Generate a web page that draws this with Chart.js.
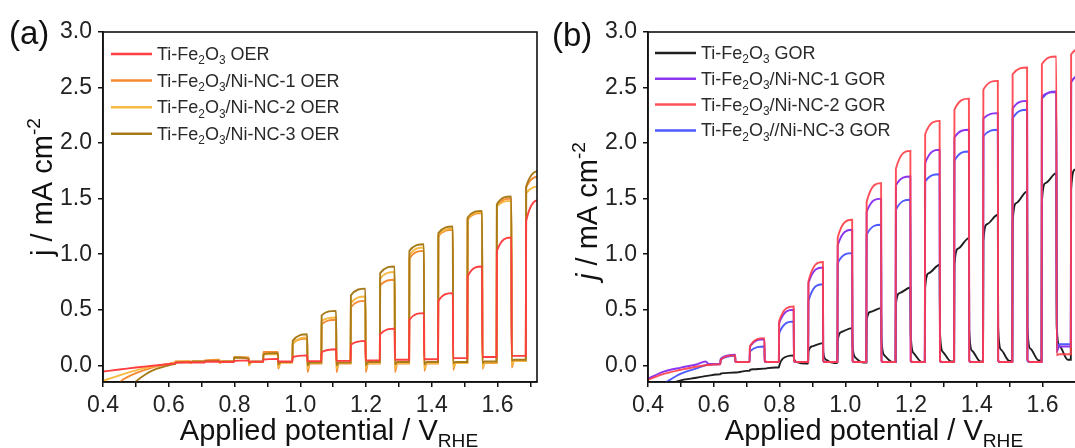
<!DOCTYPE html>
<html>
<head>
<meta charset="utf-8">
<script src="https://cdn.jsdelivr.net/npm/chart.js@4.4.1/dist/chart.umd.min.js"></script>
<style>
  html, body { margin: 0; padding: 0; background: #fff; overflow: hidden; }
  .panel { position: absolute; top: 0; width: 545px; height: 448px; }
</style>
</head>
<body>
<div class="panel" style="left:0"><canvas id="oer" width="545" height="448"></canvas></div>
<div class="panel" style="left:545px"><canvas id="gor" width="545" height="448"></canvas></div>
<script>
// chopped light: potential where the lamp goes on / off (V vs RHE)
const lightOn  = [0.620, 0.709, 0.798, 0.887, 0.976, 1.064, 1.153, 1.242, 1.331, 1.419, 1.508, 1.597, 1.686]
const lightOff = [0.665, 0.754, 0.843, 0.932, 1.021, 1.109, 1.198, 1.287, 1.376, 1.464, 1.553, 1.642, 1.731]

const xTicks = [0.4, 0.5, 0.6, 0.7, 0.8, 0.9, 1.0, 1.1, 1.2, 1.3, 1.4, 1.5, 1.6, 1.7]
const yTicks = [0, 0.25, 0.5, 0.75, 1.0, 1.25, 1.5, 1.75, 2.0, 2.25, 2.5, 2.75, 3.0]

// (a) OER, j in mA cm-2
// lead = dark sweep before the first pulse, on = right after light on,
// top = just before light off, drop = right after light off, dark = settled dark current
const refOerLead = [[0.40, -0.055], [0.45, -0.038], [0.50, -0.02], [0.55, -0.004], [0.60, 0.012], [0.62, 0.018]]
const refOerOn   = [0.025, 0.032, 0.040, 0.052, 0.075, 0.118, 0.185, 0.28, 0.41, 0.58, 0.80, 1.03, 1.30]
const refOerTop  = [0.028, 0.034, 0.045, 0.058, 0.09, 0.145, 0.22, 0.33, 0.47, 0.65, 0.89, 1.15, 1.49]
const refOerDrop = [0.025, 0.03, 0.033, 0.035, 0.04, 0.04, 0.045, 0.05, 0.055, 0.065, 0.075, 0.085]
const refOerDark = [0.025, 0.03, 0.032, 0.035, 0.038, 0.04, 0.045, 0.05, 0.055, 0.065, 0.075, 0.085]

const nc1OerLead = [[0.44, -0.19], [0.46, -0.13], [0.50, -0.07], [0.55, -0.02], [0.60, 0.012], [0.62, 0.025]]
const nc1OerOn   = [0.035, 0.045, 0.075, 0.12, 0.20, 0.37, 0.52, 0.72, 0.96, 1.16, 1.31, 1.43, 1.60]
const nc1OerTop  = [0.038, 0.05, 0.07, 0.12, 0.24, 0.41, 0.58, 0.77, 1.03, 1.22, 1.37, 1.50, 1.70]
const nc1OerDrop = [0.02, 0.02, 0.0, -0.03, -0.06, -0.06, -0.06, -0.06, -0.05, -0.04, -0.03, -0.02]
const nc1OerDark = [0.035, 0.035, 0.03, 0.025, 0.015, 0.015, 0.015, 0.015, 0.015, 0.02, 0.02, 0.04]

const nc2OerLead = [[0.40, -0.14], [0.45, -0.09], [0.50, -0.045], [0.55, -0.012], [0.60, 0.012], [0.62, 0.025]]
const nc2OerOn   = [0.035, 0.04, 0.07, 0.10, 0.19, 0.40, 0.56, 0.78, 0.99, 1.17, 1.32, 1.43, 1.55]
const nc2OerTop  = [0.038, 0.042, 0.065, 0.10, 0.25, 0.43, 0.62, 0.84, 1.06, 1.23, 1.38, 1.48, 1.61]
const nc2OerDrop = [0.02, 0.02, 0.0, -0.02, -0.03, -0.03, -0.03, -0.03, -0.03, -0.02, -0.02, 0.0]
const nc2OerDark = [0.035, 0.035, 0.03, 0.025, 0.02, 0.02, 0.02, 0.02, 0.02, 0.02, 0.025, 0.04]

const nc3OerLead = [[0.48, -0.20], [0.50, -0.145], [0.53, -0.08], [0.56, -0.035], [0.60, 0.0], [0.62, 0.012]]
const nc3OerOn   = [0.025, 0.04, 0.07, 0.10, 0.22, 0.45, 0.63, 0.83, 1.03, 1.19, 1.33, 1.45, 1.61]
const nc3OerTop  = [0.03, 0.04, 0.06, 0.11, 0.28, 0.49, 0.69, 0.89, 1.09, 1.25, 1.39, 1.52, 1.75]
const nc3OerDrop = [0.03, 0.03, 0.02, 0.01, 0.0, 0.0, 0.0, 0.01, 0.01, 0.02, 0.02, 0.04]
const nc3OerDark = [0.035, 0.035, 0.035, 0.03, 0.025, 0.025, 0.03, 0.03, 0.03, 0.03, 0.035, 0.05]

// (b) GOR
const refGorLead = [[0.46, -0.17], [0.50, -0.135], [0.53, -0.12], [0.58, -0.095], [0.62, -0.08]]
const refGorOn   = [-0.075, -0.04, -0.005, 0.12, 0.22, 0.40, 0.55, 0.70, 0.90, 1.12, 1.28, 1.47, 1.58]
const refGorMid  = [-0.07, -0.035, 0.06, 0.17, 0.30, 0.48, 0.65, 0.83, 1.05, 1.27, 1.46, 1.64, 1.76]
const refGorTop  = [-0.065, -0.03, 0.09, 0.20, 0.335, 0.515, 0.70, 0.905, 1.145, 1.355, 1.565, 1.73, 1.92]
const refGorDrop = [-0.065, -0.03, 0.06, 0.12, 0.18, 0.24, 0.28, 0.30, 0.32, 0.34, 0.35, 0.36]
const refGorTail = [-0.062, -0.025, 0.03, 0.05, 0.07, 0.09, 0.11, 0.12, 0.13, 0.14, 0.15, 0.17]
const refGorDark = [-0.05, -0.02, 0.015, 0.02, 0.025, 0.03, 0.03, 0.035, 0.035, 0.04, 0.045, 0.05]

const nc1GorLead = [[0.40, -0.12], [0.45, -0.055], [0.50, -0.02], [0.55, 0.01], [0.575, 0.035], [0.585, 0.012], [0.62, 0.012]]
const nc1GorOn   = [0.06, 0.17, 0.38, 0.74, 1.08, 1.38, 1.62, 1.82, 2.05, 2.22, 2.31, 2.42, 2.55]
const nc1GorTop  = [0.095, 0.235, 0.50, 0.88, 1.22, 1.50, 1.70, 1.94, 2.12, 2.27, 2.38, 2.46, 2.62]
const nc1GorDrop = [0.03, 0.04, 0.04, 0.04, 0.04, 0.04, 0.04, 0.04, 0.04, 0.04, 0.05, 0.12]
const nc1GorDark = [0.03, 0.03, 0.03, 0.03, 0.03, 0.03, 0.03, 0.03, 0.03, 0.03, 0.03, 0.17]

const nc2GorLead = [[0.40, -0.13], [0.45, -0.075], [0.50, -0.04], [0.55, -0.01], [0.60, 0.008], [0.62, 0.01]]
const nc2GorOn   = [0.05, 0.17, 0.40, 0.755, 1.15, 1.47, 1.77, 2.08, 2.30, 2.48, 2.62, 2.71, 2.80]
const nc2GorTop  = [0.09, 0.245, 0.53, 0.93, 1.31, 1.64, 1.93, 2.20, 2.40, 2.56, 2.68, 2.78, 2.86]
const nc2GorDrop = [0.03, 0.04, 0.04, 0.04, 0.04, 0.04, 0.04, 0.04, 0.04, 0.04, 0.05, 0.09]
const nc2GorDark = [0.03, 0.03, 0.03, 0.03, 0.03, 0.03, 0.03, 0.03, 0.03, 0.03, 0.03, 0.10]

const nc3GorLead = [[0.45, -0.16], [0.50, -0.075], [0.55, -0.025], [0.58, 0.005], [0.62, 0.01]]
const nc3GorOn   = [0.05, 0.125, 0.29, 0.58, 0.92, 1.175, 1.40, 1.655, 1.84, 2.06, 2.22, 2.40, 2.55]
const nc3GorTop  = [0.085, 0.17, 0.395, 0.73, 1.01, 1.265, 1.49, 1.72, 1.925, 2.12, 2.30, 2.465, 2.62]
const nc3GorDrop = [0.03, 0.03, 0.03, 0.03, 0.03, 0.03, 0.03, 0.03, 0.03, 0.03, 0.04, 0.12]
const nc3GorDark = [0.03, 0.03, 0.03, 0.03, 0.03, 0.03, 0.03, 0.03, 0.03, 0.03, 0.03, 0.19]

const FONT = "'Liberation Sans', Arial, sans-serif"

// turn the read values into the step curve of a chopped LSV
function chopped(lead, on, top, drop, dark, mid, tail) {
    const pts = lead.map(([x, y]) => ({x, y}))
    lightOn.forEach((xOn, i) => {
        const before = i ? dark[i - 1] : lead[lead.length - 1][1]
        pts.push({x: xOn, y: before})
        pts.push({x: xOn + 0.001, y: on[i]})
        if (mid) pts.push({x: xOn + 0.012, y: mid[i]})
        pts.push({x: lightOff[i], y: top[i]})
        if (i < dark.length) {
            pts.push({x: lightOff[i] + 0.001, y: drop[i]})
            if (tail) pts.push({x: lightOff[i] + 0.01, y: tail[i]})
            pts.push({x: lightOff[i] + (tail ? 0.035 : 0.008), y: dark[i]})
        }
    })
    return pts
}

function sub(t) { return [t, 'sub'] }
const feO = ['Ti-Fe', sub('2'), 'O', sub('3')]

function drawRich(ctx, parts, x, y, size, align) {
    let w = 0
    const items = parts.map(p => {
        const [t, m] = typeof p === 'string' ? [p, ''] : p
        const s = (m === 'sub' || m === 'sup') ? size * 0.66 : size
        const f = (m === 'i' ? 'italic ' : '') + s + 'px ' + FONT
        ctx.font = f
        const tw = ctx.measureText(t).width
        w += tw
        return {t, m, f, tw}
    })
    let cx = align === 'center' ? x - w / 2 : x
    ctx.textAlign = 'left'
    ctx.textBaseline = 'alphabetic'
    items.forEach(it => {
        ctx.font = it.f
        const dy = it.m === 'sub' ? size * 0.24 : it.m === 'sup' ? -size * 0.4 : 0
        ctx.fillText(it.t, cx, y + dy)
        cx += it.tw
    })
}

const decor = {
    id: 'decor',
    afterDraw(chart, args, o) {
        const {ctx, chartArea: a} = chart
        ctx.save()
        ctx.strokeStyle = '#111'
        ctx.lineWidth = 1.6
        ctx.strokeRect(a.left, a.top, a.right - a.left, a.bottom - a.top)
        ctx.fillStyle = '#111'
        ctx.font = '33px ' + FONT
        ctx.fillText(o.tag, o.tagX, o.tagY)
        // legend
        chart.data.datasets.forEach(ds => {
            const y = o.legendY + ds.row * o.legendGap
            ctx.strokeStyle = ds.borderColor
            ctx.lineWidth = 2.5
            ctx.beginPath()
            ctx.moveTo(o.legendX, y)
            ctx.lineTo(o.legendX + 41, y)
            ctx.stroke()
            ctx.fillStyle = '#2a2a2a'
            drawRich(ctx, ds.parts, o.legendX + 46, y + 6, 18, 'left')
        })
        ctx.fillStyle = '#111'
        drawRich(ctx, ['Applied potential / V', sub('RHE')], (a.left + a.right) / 2 + 9, 440, 29, 'center')
        ctx.translate(52, o.yTitleMid)
        ctx.rotate(-Math.PI / 2)
        drawRich(ctx, [o.jStyle, ' / mA cm', ['-2', 'sup']], 0, 0, 29, 'center')
        ctx.restore()
    }
}

function makeChart(id, datasets, deco) {
    const axisLine = {display: true, color: '#111', width: 1.6}
    const grid = {drawOnChartArea: false, drawTicks: true, tickLength: 5, color: '#111', lineWidth: 1.5}
    const tickFont = {family: FONT, size: 23}
    return new Chart(document.getElementById(id), {
        type: 'line',
        data: {datasets},
        options: {
            responsive: false,
            animation: false,
            layout: {padding: {top: 32, right: 8, left: 0, bottom: 0}},
            elements: {point: {radius: 0}, line: {borderWidth: 1.9, cubicInterpolationMode: 'monotone'}},
            plugins: {legend: {display: false}, tooltip: {enabled: false}, decor: deco},
            scales: {
                x: {
                    type: 'linear', min: 0.4, max: 1.72,
                    afterBuildTicks: s => { s.ticks = xTicks.map(v => ({value: v})) },
                    afterFit: s => { s.height = 66 },
                    ticks: {
                        autoSkip: false, maxRotation: 0, padding: 5, color: '#222', font: tickFont,
                        callback: v => Math.round(v * 10) % 2 === 0 ? v.toFixed(1) : ''
                    },
                    grid, border: axisLine
                },
                y: {
                    min: -0.15, max: 3.0,
                    afterBuildTicks: s => { s.ticks = yTicks.map(v => ({value: v})) },
                    afterFit: s => { s.width = 103 },
                    ticks: {
                        padding: 6, color: '#222', font: tickFont,
                        callback: v => Math.round(v * 4) % 2 === 0 ? v.toFixed(1) : ''
                    },
                    grid, border: axisLine
                }
            }
        },
        plugins: [decor]
    })
}

makeChart('oer', [
    {parts: [...feO, ' OER'], row: 0, order: 0, borderColor: '#ff3f3f',
        data: chopped(refOerLead, refOerOn, refOerTop, refOerDrop, refOerDark)},
    {parts: [...feO, '/Ni-NC-1 OER'], row: 1, order: 3, borderColor: '#f58a32',
        data: chopped(nc1OerLead, nc1OerOn, nc1OerTop, nc1OerDrop, nc1OerDark)},
    {parts: [...feO, '/Ni-NC-2 OER'], row: 2, order: 2, borderColor: '#f6ba42',
        data: chopped(nc2OerLead, nc2OerOn, nc2OerTop, nc2OerDrop, nc2OerDark)},
    {parts: [...feO, '/Ni-NC-3 OER'], row: 3, order: 1, borderColor: '#a87b1a',
        data: chopped(nc3OerLead, nc3OerOn, nc3OerTop, nc3OerDrop, nc3OerDark)}
], {tag: '(a)', tagX: 9, tagY: 44, legendX: 111, legendY: 54, legendGap: 26.6, yTitleMid: 187, jStyle: 'j'})

makeChart('gor', [
    {parts: [...feO, ' GOR'], row: 0, order: 3, borderColor: '#1f1f1f',
        data: chopped(refGorLead, refGorOn, refGorTop, refGorDrop, refGorDark, refGorMid, refGorTail)},
    {parts: [...feO, '/Ni-NC-1 GOR'], row: 1, order: 1, borderColor: '#8b35ee',
        data: chopped(nc1GorLead, nc1GorOn, nc1GorTop, nc1GorDrop, nc1GorDark)},
    {parts: [...feO, '/Ni-NC-2 GOR'], row: 2, order: 0, borderColor: 'rgba(255, 60, 70, 0.9)',
        data: chopped(nc2GorLead, nc2GorOn, nc2GorTop, nc2GorDrop, nc2GorDark)},
    {parts: [...feO, '//Ni-NC-3 GOR'], row: 3, order: 2, borderColor: '#4f5bff',
        data: chopped(nc3GorLead, nc3GorOn, nc3GorTop, nc3GorDrop, nc3GorDark)}
], {tag: '(b)', tagX: 7, tagY: 46, legendX: 110, legendY: 53, legendGap: 25.8, yTitleMid: 211, jStyle: ['j', 'i']})
</script>
</body>
</html>
